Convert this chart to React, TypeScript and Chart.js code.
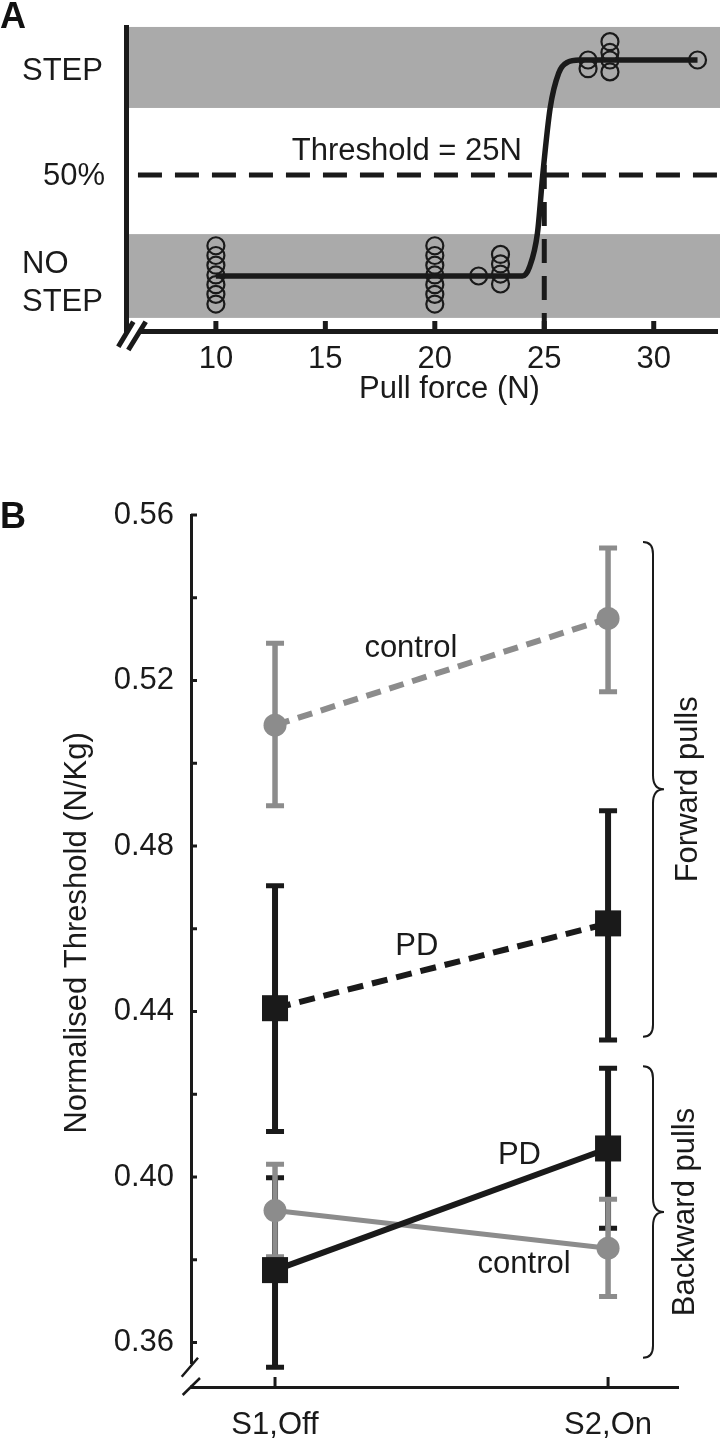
import React, { useEffect, useRef } from "react";
import { Chart, registerables } from "chart.js";

Chart.register(...registerables);

const FONT = '"Liberation Sans", Arial, Helvetica, sans-serif';
const INK = "#1a1a1a";
const GREY = "#8c8c8c";
const BAND = "#aaaaaa";
const FS = 31;

// ---------- Panel A data ----------
const pullTicks = [10, 15, 20, 25, 30];
const responseLabels = ["STEP", "50%", "NO STEP"];
const responseLevels = [1, 0.468, 0];
const trialForce = [10, 10, 10, 10, 10, 10, 10, 20, 20, 20, 20, 20, 20, 20, 22, 23, 23, 23, 23, 27, 27, 28, 28, 28, 28, 32];
const trialResponse = [0.14, 0.095, 0.05, 0.005, -0.04, -0.085, -0.13, 0.14, 0.095, 0.05, 0.005, -0.04, -0.085, -0.13, 0, 0.1, 0.056, 0.009, -0.037, 1.0, 0.96, 1.085, 1.035, 1.0, 0.945, 1.0];
const fitForce = [10, 24.0, 24.33, 24.69, 24.93, 25.27, 25.66, 26.07, 26.6, 32];
const fitResponse = [0, 0, 0.043, 0.2, 0.468, 0.778, 0.94, 0.99, 1.0, 1.0];
const thresholdForce = 25;
const thresholdText = "Threshold = 25N";
const stepBand = [0.778, 1.153];
const noStepBand = [-0.194, 0.194];

// ---------- Panel B data ----------
const sessions = ["S1,Off", "S2,On"];
const sessionX = [1, 2];
const fwdControlMean = [0.5092, 0.535];
const fwdControlLow = [0.4897, 0.5173];
const fwdControlHigh = [0.529, 0.552];
const fwdPdMean = [0.4408, 0.4613];
const fwdPdLow = [0.411, 0.4331];
const fwdPdHigh = [0.4704, 0.4885];
const bwdPdMean = [0.3775, 0.4069];
const bwdPdLow = [0.354, 0.3876];
const bwdPdHigh = [0.3998, 0.4263];
const bwdControlMean = [0.3919, 0.3828];
const bwdControlLow = [0.3807, 0.3711];
const bwdControlHigh = [0.4031, 0.3946];
const thresholdMajorTicks = [0.36, 0.4, 0.44, 0.48, 0.52, 0.56];
const thresholdMinorTicks = [0.38, 0.42, 0.46, 0.5, 0.54];
const forwardRange = [0.4339, 0.5535];
const backwardRange = [0.3563, 0.4268];

const font = (size: number, weight = "normal") => `${weight} ${size}px ${FONT}`;

const panelAPlugin = {
  id: "panelA",
  beforeDatasetsDraw(chart: any) {
    const { ctx, chartArea, scales } = chart;
    const y = scales.y;
    ctx.save();
    ctx.fillStyle = BAND;
    for (const [lo, hi] of [noStepBand, stepBand]) {
      const top = y.getPixelForValue(hi);
      const bot = y.getPixelForValue(lo);
      ctx.fillRect(chartArea.left + 3, top, chart.width - chartArea.left - 3, bot - top);
    }
    ctx.restore();
  },
  afterDraw(chart: any) {
    const { ctx, chartArea, scales } = chart;
    const { x, y } = scales;
    const { left, bottom, right } = chartArea;
    ctx.save();
    // inward tick marks
    ctx.strokeStyle = INK;
    ctx.lineWidth = 5;
    ctx.lineCap = "butt";
    for (const v of pullTicks) {
      const px = x.getPixelForValue(v);
      ctx.beginPath();
      ctx.moveTo(px, bottom);
      ctx.lineTo(px, bottom - 10);
      ctx.stroke();
    }
    // axis break
    ctx.fillStyle = "#ffffff";
    ctx.fillRect(left + 3, bottom - 4, 12, 8);
    ctx.lineWidth = 5;
    ctx.beginPath();
    ctx.moveTo(left - 7.7, bottom + 15.7);
    ctx.lineTo(left + 7.3, bottom - 9.3);
    ctx.moveTo(left + 2.3, bottom + 19);
    ctx.lineTo(left + 19.7, bottom - 9.3);
    ctx.stroke();

    // response labels
    ctx.fillStyle = INK;
    ctx.font = font(FS);
    ctx.textBaseline = "alphabetic";
    ctx.textAlign = "left";
    ctx.fillText(responseLabels[0], 22, y.getPixelForValue(responseLevels[0]) + 20);
    ctx.textAlign = "right";
    ctx.fillText(responseLabels[1], 105, y.getPixelForValue(responseLevels[1]) + 10);
    ctx.textAlign = "left";
    const [l1, l2] = responseLabels[2].split(" ");
    ctx.fillText(l1, 22, y.getPixelForValue(responseLevels[2]) - 3);
    ctx.fillText(l2, 22, y.getPixelForValue(responseLevels[2]) + 35);

    // threshold text
    ctx.fillText(thresholdText, x.getPixelForValue(13.47), y.getPixelForValue(0.537));

    // axis title
    ctx.textAlign = "center";
    ctx.fillText("Pull force (N)", (left + right) / 2 + 28, bottom + 67);

    // panel letter
    ctx.font = font(36, "bold");
    ctx.textAlign = "left";
    ctx.fillStyle = "#111111";
    ctx.fillText("A", 0, 28);
    ctx.restore();
  },
};

const panelBPlugin = {
  id: "panelB",
  beforeDatasetsDraw(chart: any) {
    const { ctx, scales } = chart;
    const { x, y } = scales;
    const bars = [
      { low: fwdPdLow, high: fwdPdHigh, color: INK, w: 6 },
      { low: bwdPdLow, high: bwdPdHigh, color: INK, w: 6 },
      { low: fwdControlLow, high: fwdControlHigh, color: GREY, w: 5.5 },
      { low: bwdControlLow, high: bwdControlHigh, color: GREY, w: 5.5 },
    ];
    ctx.save();
    ctx.lineCap = "butt";
    for (const b of bars) {
      ctx.strokeStyle = b.color;
      for (let i = 0; i < sessionX.length; i++) {
        const px = x.getPixelForValue(sessionX[i]);
        const yl = y.getPixelForValue(b.low[i]);
        const yh = y.getPixelForValue(b.high[i]);
        ctx.lineWidth = b.w;
        ctx.beginPath();
        ctx.moveTo(px, yl);
        ctx.lineTo(px, yh);
        ctx.stroke();
        ctx.lineWidth = 5;
        ctx.beginPath();
        ctx.moveTo(px - 9, yl);
        ctx.lineTo(px + 9, yl);
        ctx.moveTo(px - 9, yh);
        ctx.lineTo(px + 9, yh);
        ctx.stroke();
      }
    }
    ctx.restore();
  },
  afterDraw(chart: any) {
    const { ctx, chartArea, scales } = chart;
    const { x, y } = scales;
    const { left, bottom, right } = chartArea;
    ctx.save();
    ctx.strokeStyle = INK;
    ctx.lineCap = "butt";
    ctx.lineWidth = 3;
    // inward y ticks
    for (const v of [...thresholdMajorTicks, ...thresholdMinorTicks]) {
      const py = y.getPixelForValue(v);
      ctx.beginPath();
      ctx.moveTo(left, py);
      ctx.lineTo(left + 6, py);
      ctx.stroke();
    }
    // inward x ticks
    for (const v of sessionX) {
      const px = x.getPixelForValue(v);
      ctx.beginPath();
      ctx.moveTo(px, bottom);
      ctx.lineTo(px, bottom - 10);
      ctx.stroke();
    }
    // axis break
    ctx.fillStyle = "#ffffff";
    ctx.fillRect(left - 3, bottom - 23, 6, 21.5);
    ctx.lineWidth = 2.5;
    ctx.beginPath();
    ctx.moveTo(left - 9.3, bottom - 10.3);
    ctx.lineTo(left + 7, bottom - 29.3);
    ctx.moveTo(left - 8.3, bottom + 8);
    ctx.lineTo(left + 9, bottom - 9);
    ctx.stroke();

    // y title
    ctx.fillStyle = INK;
    ctx.font = font(FS);
    ctx.save();
    ctx.translate(77, y.getPixelForValue(0.459));
    ctx.rotate(-Math.PI / 2);
    ctx.textAlign = "center";
    ctx.textBaseline = "middle";
    ctx.fillText("Normalised Threshold (N/Kg)", 0, 0);
    ctx.restore();

    // inline labels
    ctx.textAlign = "center";
    ctx.textBaseline = "alphabetic";
    const inline = [
      { t: "control", x: 1.408, y: 0.5257 },
      { t: "PD", x: 1.426, y: 0.4537 },
      { t: "PD", x: 1.734, y: 0.4031 },
      { t: "control", x: 1.748, y: 0.3768 },
    ];
    for (const l of inline) ctx.fillText(l.t, x.getPixelForValue(l.x), y.getPixelForValue(l.y));

    // braces
    const brace = (r: number[]) => {
      const top = y.getPixelForValue(r[1]);
      const bot = y.getPixelForValue(r[0]);
      const mid = (top + bot) / 2;
      const x0 = right - 35;
      const xs = right - 25;
      const xt = right - 14;
      ctx.beginPath();
      ctx.moveTo(x0, top);
      ctx.quadraticCurveTo(xs, top, xs, top + 12);
      ctx.lineTo(xs, mid - 14);
      ctx.quadraticCurveTo(xs, mid, xt, mid);
      ctx.quadraticCurveTo(xs, mid, xs, mid + 14);
      ctx.lineTo(xs, bot - 12);
      ctx.quadraticCurveTo(xs, bot, x0, bot);
      ctx.stroke();
      return mid;
    };
    ctx.lineWidth = 2;
    const m1 = brace(forwardRange);
    const m2 = brace(backwardRange);
    const rot = (t: string, cx: number, cy: number) => {
      ctx.save();
      ctx.translate(cx, cy);
      ctx.rotate(-Math.PI / 2);
      ctx.textAlign = "center";
      ctx.textBaseline = "middle";
      ctx.fillText(t, 0, 0);
      ctx.restore();
    };
    rot("Forward pulls", right + 10, m1);
    rot("Backward pulls", right + 7, m2);

    // panel letter
    ctx.font = font(36, "bold");
    ctx.textAlign = "left";
    ctx.fillStyle = "#111111";
    ctx.fillText("B", 0, 88);
    ctx.restore();
  },
};

export default function App() {
  const refA = useRef<HTMLCanvasElement | null>(null);
  const refB = useRef<HTMLCanvasElement | null>(null);

  useEffect(() => {
    if (!refA.current || !refB.current) return;
    const pts = (xs: number[], ys: number[]) => xs.map((v, i) => ({ x: v, y: ys[i] }));

    const chartA = new Chart(refA.current, {
      type: "scatter",
      data: {
        datasets: [
          {
            type: "scatter",
            data: pts(trialForce, trialResponse),
            pointStyle: "circle",
            pointRadius: 8.5,
            pointBorderWidth: 2.2,
            pointBorderColor: INK,
            pointBackgroundColor: "rgba(0,0,0,0)",
          } as any,
          {
            type: "line",
            data: pts(fitForce, fitResponse),
            borderColor: INK,
            borderWidth: 5.5,
            pointRadius: 0,
            cubicInterpolationMode: "monotone",
            fill: false,
          } as any,
          {
            type: "line",
            data: [
              { x: 6.44, y: responseLevels[1] },
              { x: 33.1, y: responseLevels[1] },
            ],
            borderColor: INK,
            borderWidth: 5,
            borderDash: [24, 13],
            pointRadius: 0,
            clip: false,
          } as any,
          {
            type: "line",
            data: [
              { x: thresholdForce, y: 0.514 },
              { x: thresholdForce, y: -0.255 },
            ],
            borderColor: INK,
            borderWidth: 5,
            borderDash: [24, 13],
            pointRadius: 0,
          } as any,
        ],
      },
      options: {
        animation: false,
        responsive: false,
        events: [],
        layout: { autoPadding: false, padding: { top: 27, right: 3, left: 0, bottom: 0 } },
        plugins: { legend: { display: false }, tooltip: { enabled: false } },
        scales: {
          x: {
            type: "linear",
            min: 5.894,
            max: 32.89,
            afterBuildTicks: (s: any) => {
              s.ticks = pullTicks.map((v) => ({ value: v }));
            },
            afterFit: (s: any) => {
              s.height = 89;
            },
            ticks: { font: { family: FONT, size: FS }, color: INK, padding: 9.5, maxRotation: 0, autoSkip: false },
            grid: { display: false, drawTicks: false },
            border: { display: true, color: INK, width: 5 },
          },
          y: {
            type: "linear",
            min: -0.2546,
            max: 1.1528,
            afterFit: (s: any) => {
              s.width = 126;
            },
            ticks: { display: false },
            grid: { display: false, drawTicks: false },
            border: { display: true, color: INK, width: 5 },
          },
        },
      } as any,
      plugins: [panelAPlugin],
    });

    const chartB = new Chart(refB.current, {
      type: "line",
      data: {
        datasets: [
          {
            data: pts(sessionX, bwdPdMean),
            borderColor: INK,
            borderWidth: 6,
            pointStyle: "rect",
            pointRadius: 18.4,
            pointBackgroundColor: INK,
            pointBorderWidth: 0,
          },
          {
            data: pts(sessionX, fwdPdMean),
            borderColor: INK,
            borderWidth: 6,
            borderDash: [16, 9],
            pointStyle: "rect",
            pointRadius: 18.4,
            pointBackgroundColor: INK,
            pointBorderWidth: 0,
          },
          {
            data: pts(sessionX, bwdControlMean),
            borderColor: GREY,
            borderWidth: 5,
            pointStyle: "circle",
            pointRadius: 11.5,
            pointBackgroundColor: GREY,
            pointBorderWidth: 0,
          },
          {
            data: pts(sessionX, fwdControlMean),
            borderColor: GREY,
            borderWidth: 6,
            borderDash: [15, 9],
            pointStyle: "circle",
            pointRadius: 11.5,
            pointBackgroundColor: GREY,
            pointBorderWidth: 0,
          },
        ] as any,
      },
      options: {
        animation: false,
        responsive: false,
        events: [],
        layout: { autoPadding: false, padding: { top: 75, right: 42, left: 0, bottom: 0 } },
        plugins: { legend: { display: false }, tooltip: { enabled: false } },
        scales: {
          x: {
            type: "linear",
            min: 0.7477,
            max: 2.21,
            afterBuildTicks: (s: any) => {
              s.ticks = sessionX.map((v) => ({ value: v }));
            },
            afterFit: (s: any) => {
              s.height = 52;
            },
            ticks: {
              font: { family: FONT, size: FS },
              color: INK,
              padding: 20,
              maxRotation: 0,
              autoSkip: false,
              callback: (v: any) => sessions[sessionX.indexOf(Number(v))] ?? "",
            },
            grid: { display: false, drawTicks: false },
            border: { display: true, color: INK, width: 3 },
          },
          y: {
            type: "linear",
            min: 0.34925,
            max: 0.56,
            afterBuildTicks: (s: any) => {
              s.ticks = thresholdMajorTicks.map((v) => ({ value: v }));
            },
            afterFit: (s: any) => {
              s.width = 191;
            },
            ticks: {
              font: { family: FONT, size: FS },
              color: INK,
              padding: 17,
              callback: (v: any) => Number(v).toFixed(2),
            },
            grid: { display: false, drawTicks: false },
            border: { display: true, color: INK, width: 3 },
          },
        },
      } as any,
      plugins: [panelBPlugin],
    });

    return () => {
      chartA.destroy();
      chartB.destroy();
    };
  }, []);

  return (
    <div style={{ position: "absolute", left: 0, top: 0, width: 720, height: 1439, background: "#ffffff" }}>
      <canvas
        ref={refA}
        width={720}
        height={420}
        style={{ position: "absolute", left: 0, top: 0, width: 720, height: 420 }}
      />
      <canvas
        ref={refB}
        width={720}
        height={999}
        style={{ position: "absolute", left: 0, top: 440, width: 720, height: 999 }}
      />
    </div>
  );
}
